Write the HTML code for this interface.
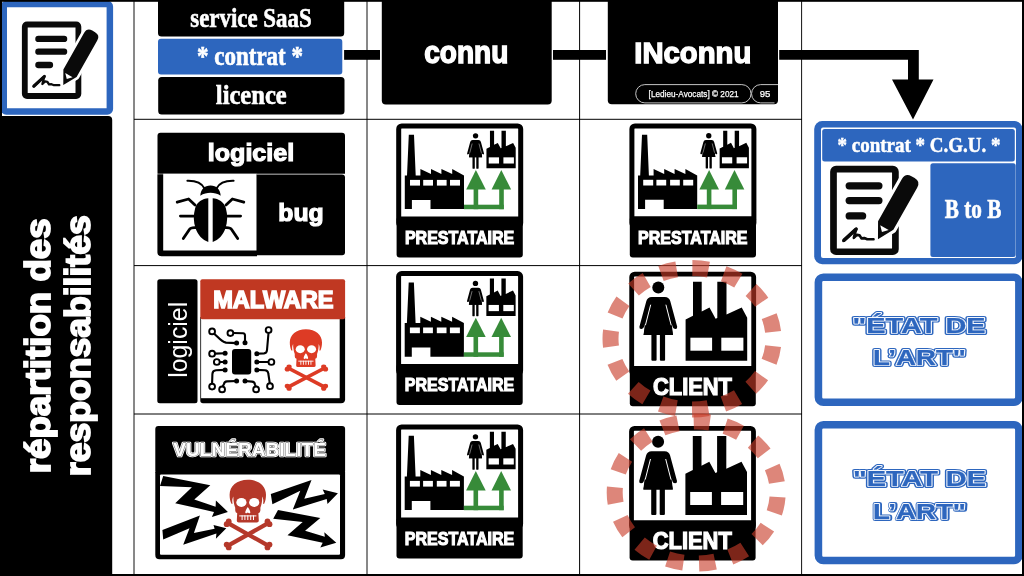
<!DOCTYPE html>
<html>
<head>
<meta charset="utf-8">
<title>répartition des responsabilités</title>
<style>
html,body{margin:0;padding:0;background:#fff;width:1024px;height:576px;overflow:hidden}
svg{display:block;position:absolute;left:0;top:0;will-change:transform}
text{font-family:"Liberation Sans",sans-serif;font-weight:bold;fill:#fff}
.serif{font-family:"Liberation Serif",serif;font-weight:bold}
.reg{font-weight:normal}
.blue{fill:#2d66be}
.nofill{fill:none}
</style>
</head>
<body>
<svg width="1024" height="576" viewBox="0 0 1024 576">
<defs>
<!-- ===== contract icon : local 100x100 ===== -->
<g id="contract">
  <rect x="14.8" y="14.5" width="53.6" height="71.5" rx="2.2" fill="#fff" stroke="#0a0a0a" stroke-width="5.8"/>
  <g stroke="#0a0a0a" stroke-width="6.3" stroke-linecap="round">
    <line x1="28.4" y1="28.9" x2="54.1" y2="28.9"/>
    <line x1="28.4" y1="41.7" x2="54.1" y2="41.7"/>
    <line x1="28.4" y1="55" x2="40" y2="55"/>
  </g>
  <path d="M23.4,76.6 L27.5,73 L31,69.5 L34.6,66 L33.4,70 L32.4,74 L35,71.4 L37.4,71.8 L39,74.4 L41.5,74.2 L44,75.2 L49.5,75.2" fill="none" stroke="#0a0a0a" stroke-width="2.3" stroke-linecap="round" stroke-linejoin="round"/>
  <path d="M24,76 L34.2,66.6" fill="none" stroke="#0a0a0a" stroke-width="3.1" stroke-linecap="round"/>
  <!-- pen -->
  <g transform="translate(53.3,75.1) rotate(29.5)">
    <path d="M0,0 L-7.6,-13.6 L-7.6,-55.5 Q-7.6,-61.7 -1.6,-61.7 L1.6,-61.7 Q7.600,-61.7 7.600,-55.5 L7.600,-13.6 Z" fill="#fff" stroke="#fff" stroke-width="5.4" stroke-linejoin="round"/>
    <path d="M0,0 L-7.6,-13.6 L-7.6,-55.5 Q-7.6,-61.7 -1.6,-61.7 L1.6,-61.7 Q7.600,-61.7 7.600,-55.5 L7.600,-13.6 Z" fill="#0a0a0a"/>
    <path d="M-4.2,-11.4 L4.2,-11.4 L0,-7 Z" fill="#fff"/>
  </g>
</g>

<!-- ===== woman (big, local to client box) ===== -->
<g id="woman">
  <circle cx="29" cy="15.7" r="6"/>
  <path d="M29,25.2 L22.5,25.2 Q18,25.4 17,29.5 L10.1,55 Q9.8,57.4 12.2,57.2 Q14.2,57.2 14.6,55.4 L15.6,52 L14.3,63.4 L43.7,63.4 L42.4,52 L43.4,55.4 Q43.8,57.2 45.8,57.2 Q48.2,57.4 47.9,55 L41,29.5 Q40,25.4 35.5,25.2 Z"/>
  <path d="M14.3,63.4 L17.5,47 L40.5,47 L43.7,63.4 Z"/>
  <rect x="22.1" y="62" width="5.2" height="27.1" rx="1"/>
  <rect x="30.6" y="62" width="5.2" height="27.1" rx="1"/>
  <g stroke="#fff" stroke-width="1" stroke-linecap="butt">
    <line x1="21.4" y1="33" x2="16.1" y2="53.6"/>
    <line x1="36.6" y1="33" x2="41.9" y2="53.6"/>
  </g>
</g>

<!-- ===== factory (big, local to client box) ===== -->
<g id="factory">
  <path d="M56.3,89.1 L56.3,47.8 L63.7,44 L63.7,10.1 L72.4,10.1 L72.4,39.7 L80.2,35.7 L86.3,47 L88,46.2 L88,10.1 L97.2,10.1 L97.2,42.7 L112.4,35.7 L117.9,46 L117.9,89.1 Z"/>
  <rect x="61.1" y="66" width="21.7" height="13" fill="#fff"/>
  <rect x="92" y="66" width="22.1" height="13" fill="#fff"/>
</g>

<!-- ===== client icon ===== -->
<g id="client">
  <rect x="2.4" y="2.4" width="122" height="100" rx="3" fill="#fff" stroke="#000" stroke-width="4.8"/>
  <use href="#woman"/>
  <use href="#factory"/>
  <rect x="0.5" y="94.3" width="126" height="40.3" rx="3" fill="#000"/>
  <text x="63.2" y="123" font-size="23" text-anchor="middle" textLength="79" lengthAdjust="spacingAndGlyphs" stroke="#fff" stroke-width="1.2">CLIENT</text>
</g>

<!-- ===== prestataire icon ===== -->
<g id="presta">
  <rect x="2.5" y="2.5" width="122" height="100" rx="3" fill="#fff" stroke="#000" stroke-width="5"/>
  <!-- big factory -->
  <path d="M8.6,85.6 L8.6,52 L10.8,52 L12.6,11.3 L17.8,11.3 L19.5,52 L24.2,52 L24.2,45.6 L34.8,50.6 L34.8,45.6 L45.2,50.6 L45.2,45.6 L56,50.6 L56,45.6 L67.8,52 L67.8,85.6 L34.3,85.6 L34.3,76.4 L15.7,76.4 L15.7,85.6 Z"/>
  <g fill="#fff">
    <rect x="13.8" y="56.4" width="10" height="5.7"/>
    <rect x="27" y="56.4" width="9.8" height="5.7"/>
    <rect x="40.7" y="56.4" width="9.7" height="5.7"/>
    <rect x="53.8" y="56.4" width="10" height="5.7"/>
  </g>
  <!-- green arrows -->
  <g fill="#378b39">
    <rect x="67.8" y="81.2" width="39.8" height="4.5"/>
    <rect x="77.4" y="64" width="4.6" height="21.7"/>
    <rect x="103" y="64" width="4.6" height="21.7"/>
    <path d="M79.7,46.6 L89.6,66 L70,66 Z"/>
    <path d="M105.1,46.6 L114.9,66 L95.4,66 Z"/>
  </g>
  <use href="#woman" transform="translate(66.4,5.3) scale(0.447)"/>
  <use href="#factory" transform="translate(63.5,2.5) scale(0.475)"/>
  <rect x="0.4" y="92.9" width="126.2" height="41.1" rx="3" fill="#000"/>
  <text x="63.4" y="120.4" font-size="17.6" text-anchor="middle" textLength="109.4" lengthAdjust="spacingAndGlyphs" stroke="#fff" stroke-width="1.1">PRESTATAIRE</text>
</g>

<!-- ===== skull (vuln size, local origin = cranium centre top) ===== -->
<g id="skull">
  <path d="M0,0 C11,0 18.2,6.5 18.2,15 C18.2,18.5 17.6,21.5 16.4,24 L15.2,24 C15.8,21.5 15.6,18.6 14.4,16.6 C14.6,20 14,24 12.6,28 L12.6,30.5 Q12.6,33 10.6,33.4 L11,41 Q11,42.8 9,42.8 L-9,42.8 Q-11,42.8 -11,41 L-10.6,33.4 Q-12.6,33 -12.6,30.5 L-12.6,28 C-14,24 -14.6,20 -14.4,16.6 C-15.6,18.6 -15.8,21.5 -15.2,24 L-16.4,24 C-17.6,21.5 -18.2,18.5 -18.2,15 C-18.2,6.5 -11,0 0,0 Z"/>
  <g fill="#fff">
    <ellipse cx="-6.4" cy="22.6" rx="5.1" ry="4.5"/>
    <ellipse cx="6.4" cy="22.6" rx="5.1" ry="4.5"/>
    <path d="M0,27.2 C1.5,29.2 2.7,31.6 2.5,33 Q1.500,34.2 0,32.8 Q-1.5,34.2 -2.5,33 C-2.7,31.6 -1.5,29.2 0,27.2 Z"/>
    <rect x="-8.6" y="35.6" width="17.2" height="1"/>
    <rect x="-6.2" y="35.6" width="1" height="4.6"/>
    <rect x="-3.4" y="35.6" width="1" height="4.6"/>
    <rect x="-0.5" y="35.6" width="1" height="4.6"/>
    <rect x="2.4" y="35.6" width="1" height="4.6"/>
    <rect x="5.2" y="35.6" width="1" height="4.6"/>
  </g>
</g>
<!-- crossbones, local origin = cross centre -->
<g id="bones">
  <g stroke-width="4.2" stroke-linecap="butt" fill="none">
    <line x1="-20.5" y1="-11.5" x2="20.5" y2="11.5"/>
    <line x1="20.5" y1="-11.5" x2="-20.5" y2="11.5"/>
  </g>
  <g stroke="none">
  <circle cx="-21.4" cy="-10.2" r="2.9"/><circle cx="-19.4" cy="-13" r="2.9"/>
  <circle cx="21.4" cy="-10.2" r="2.9"/><circle cx="19.4" cy="-13" r="2.9"/>
  <circle cx="-21.4" cy="10.2" r="2.9"/><circle cx="-19.4" cy="13" r="2.9"/>
  <circle cx="21.4" cy="10.2" r="2.9"/><circle cx="19.4" cy="13" r="2.9"/>
  </g>
</g>
</defs>

<!-- ================= background & frame ================= -->
<rect x="0" y="0" width="1024" height="576" fill="#fff"/>

<!-- grid lines -->
<g stroke="#000" stroke-width="1" fill="none">
  <line x1="134" y1="0" x2="134" y2="576" stroke="#111"/>
  <line x1="367" y1="0" x2="367" y2="576" stroke="#111"/>
  <line x1="579.6" y1="0" x2="579.6" y2="576"/>
  <line x1="801.6" y1="0" x2="801.6" y2="576" stroke="#111"/>
  <line x1="134" y1="119.3" x2="802" y2="119.3"/>
  <line x1="134" y1="265.6" x2="802" y2="265.6"/>
  <line x1="134" y1="414" x2="802" y2="414"/>
</g>

<!-- ============ LEFT column ============ -->
<rect x="3.75" y="4.05" width="106.1" height="107.4" rx="2.5" fill="#fff" stroke="#2d66be" stroke-width="6.5"/>
<use href="#contract" transform="translate(10,10)"/>
<path d="M0,116 L108.2,116 Q112.2,116 112.2,120 L112.2,576 L0,576 Z" fill="#000"/>
<g transform="translate(50.2,473.3) rotate(-90)">
  <text x="0" y="0" font-size="35.2" textLength="255" lengthAdjust="spacingAndGlyphs" stroke="#fff" stroke-width="1.8">répartition des</text>
</g>
<g transform="translate(90.4,476.2) rotate(-90)">
  <text x="0" y="0" font-size="35.2" textLength="261" lengthAdjust="spacingAndGlyphs" stroke="#fff" stroke-width="1.8">responsabilités</text>
</g>
<!-- ============ ROW 1 ============ -->
<path d="M158,0 L344.2,0 L344.2,33.1 Q344.2,36.6 340.7,36.6 L161.5,36.6 Q158,36.6 158,33.1 Z" fill="#000"/>
<text class="serif" x="251" y="27" font-size="27" text-anchor="middle" textLength="121.4" lengthAdjust="spacingAndGlyphs" stroke="#fff" stroke-width="0.6">service SaaS</text>
<rect x="158" y="38.8" width="184.3" height="35.8" rx="3" fill="#2d66be"/>
<text class="serif" x="250" y="64.5" font-size="27" text-anchor="middle" textLength="106" lengthAdjust="spacingAndGlyphs" stroke="#fff" stroke-width="0.6">* contrat *</text>
<rect x="158.2" y="77" width="186.3" height="37.6" rx="3.5" fill="#000"/>
<text class="serif" x="251.3" y="103.7" font-size="27" text-anchor="middle" textLength="71" lengthAdjust="spacingAndGlyphs" stroke="#fff" stroke-width="0.6">licence</text>
<!-- connectors -->
<rect x="344.1" y="50" width="35.9" height="9.8" fill="#000"/>
<rect x="553" y="50" width="53" height="9.8" fill="#000"/>
<path d="M779.2,50 L918.8,50 L918.8,79.5 L933.5,79.5 L913,119.6 L892,79.5 L908,79.5 L908,59.8 L779.2,59.8 Z" fill="#000"/>
<!-- connu -->
<path d="M381.8,0 L551.7,0 L551.7,100.5 Q551.7,104.5 547.7,104.5 L385.8,104.5 Q381.8,104.5 381.8,100.5 Z" fill="#000"/>
<text x="466.3" y="62.5" font-size="31" text-anchor="middle" textLength="84" lengthAdjust="spacingAndGlyphs" stroke="#fff" stroke-width="1.5">connu</text>
<!-- INconnu -->
<path d="M607.8,0 L778,0 L778,100.2 Q778,104.2 774,104.2 L611.8,104.2 Q607.8,104.2 607.8,100.2 Z" fill="#000"/>
<text x="692.8" y="62.5" font-size="30" text-anchor="middle" textLength="117" lengthAdjust="spacingAndGlyphs" stroke="#fff" stroke-width="1.4">INconnu</text>
<rect x="635.7" y="84.6" width="115.3" height="18.3" rx="9.15" fill="#000" stroke="#c4c4c4" stroke-width="1"/>
<text class="reg" x="693.6" y="97.1" font-size="9.6" text-anchor="middle" textLength="90" lengthAdjust="spacingAndGlyphs" stroke="#fff" stroke-width="0.25">[Ledieu-Avocats] © 2021</text>
<path d="M778,84.6 L760.7,84.6 A9.15,9.15 0 0 0 760.7,102.9 L774.5,102.9" fill="none" stroke="#c4c4c4" stroke-width="1"/>
<text class="reg" x="765.1" y="97.1" font-size="9.6" text-anchor="middle" stroke="#fff" stroke-width="0.25">95</text>
<!-- ============ ROW 2 ============ -->
<path d="M160.5,132.8 L342,132.8 Q345,132.8 345,135.8 L345,173.7 L157.5,173.7 L157.5,135.8 Q157.5,132.8 160.5,132.8 Z" fill="#000"/>
<text x="251" y="161.2" font-size="24.5" text-anchor="middle" textLength="86.5" lengthAdjust="spacingAndGlyphs" stroke="#fff" stroke-width="1.2">logiciel</text>
<path d="M157.4,174.3 L257,174.3 L257,256.2 L161.5,256.2 Q157.4,256.2 157.4,252 Z" fill="#000"/>
<rect x="163.2" y="173.8" width="93.5" height="76.7" fill="#fff"/>
<path d="M256.7,174.4 L342,174.4 Q345,174.4 345,177.4 L345,252.3 Q345,255.3 342,255.3 L256.7,255.3 Z" fill="#000"/>
<text x="301" y="221.3" font-size="24.5" text-anchor="middle" textLength="45.4" lengthAdjust="spacingAndGlyphs" stroke="#fff" stroke-width="1.2">bug</text>
<!-- bug icon -->
<g fill="#000" stroke="none">
  <path d="M200.3,195.8 C200.6,189.5 204.5,185.6 210.5,185.6 C216.5,185.6 220.4,189.5 220.7,195.8 C217.5,193.6 214,192.8 210.5,192.8 C207,192.8 203.5,193.6 200.3,195.8 Z"/>
  <path d="M208.3,198.2 C202.5,198.6 196.8,202 195.2,208 C193.2,215 193.4,222 195.6,228.5 C197.8,235 202.5,240 208.3,242 Z"/>
  <path d="M212.7,198.2 C218.5,198.6 224.2,202 225.8,208 C227.8,215 227.6,222 225.4,228.5 C223.2,235 218.500,240 212.7,242 Z"/>
</g>
<g fill="none" stroke="#000" stroke-width="2" stroke-linecap="round" stroke-linejoin="round">
  <path d="M204.5,188.5 C202,183.5 196,180.6 187.4,180.8"/>
  <path d="M216.5,188.5 C219,183.5 225,180.6 233.600,180.8"/>
</g>
<g fill="none" stroke="#000" stroke-width="2.8" stroke-linecap="round" stroke-linejoin="round">
  <path d="M195,205 L188.6,199 L177.2,202.2"/>
  <path d="M226,205 L232.400,199 L243.800,202.2"/>
  <path d="M180.4,216.1 L194,216.1"/>
  <path d="M240.600,216.1 L227,216.1"/>
  <path d="M195.5,227.6 Q190.5,227.4 189.4,229.4 L183.3,238.6"/>
  <path d="M225.5,227.6 Q230.5,227.4 231.600,229.4 L237.700,238.6"/>
</g>
<use href="#presta" transform="translate(396.2,123.5)"/>
<use href="#presta" transform="translate(629.4,123.4)"/>
<!-- ============ ROW 3 ============ -->
<rect x="157.3" y="279.2" width="40.2" height="124" rx="2.5" fill="#000"/>
<g transform="translate(186.5,377.8) rotate(-90)">
  <text class="reg" x="0" y="0" font-size="25" textLength="76" lengthAdjust="spacingAndGlyphs">logiciel</text>
</g>
<path d="M200.3,317 L345.1,317 L345.1,399.2 Q345.1,403.2 341,403.2 L203,403.2 Q200.3,403.2 200.3,400.5 Z" fill="#000"/>
<rect x="201.1" y="318" width="138.6" height="80.2" fill="#fff"/>
<rect x="200.3" y="279.2" width="144.8" height="40.1" rx="2" fill="#c03822"/>
<text x="273.4" y="308.4" font-size="23" text-anchor="middle" textLength="120.4" lengthAdjust="spacingAndGlyphs" stroke="#fff" stroke-width="1.5">MALWARE</text>
<!-- chip -->
<rect x="232" y="349.1" width="19.2" height="25.4" rx="3" fill="#000"/>
<g fill="none" stroke="#000" stroke-width="2.1" stroke-linecap="round" stroke-linejoin="round">
  <path d="M214,333.4 C219,338 221,341.5 226,342.6 L236.6,343.1"/>
  <path d="M233.2,333 L243,333.2 Q245,333.4 245,335.5 L245,342.8"/>
  <path d="M215,353.6 L225.1,353.3"/>
  <path d="M219.6,362 L225.1,362"/>
  <path d="M225.1,369.9 L216,370.3 Q212.6,370.6 212.4,374 L212.1,383.6"/>
  <path d="M236.6,381 L227,381.4 Q224.4,381.6 224,384 L222.6,386.6"/>
  <path d="M245,381 L252,381.6 Q254.600,381.8 255,384.5 L255.7,386.6"/>
  <path d="M256.8,353.7 L264,353.4 Q266.8,353.2 267,350 L268.5,333"/>
  <path d="M256.8,362 L268.5,362"/>
  <path d="M256.8,369.9 L265,370.3 Q268,370.5 268.3,373.5 L269.8,383.3"/>
</g>
<g fill="#000">
  <circle cx="236.6" cy="343.1" r="2.5"/><circle cx="245" cy="342.8" r="2.5"/>
  <circle cx="225.1" cy="353.3" r="2.5"/><circle cx="225.1" cy="362" r="2.5"/><circle cx="225.1" cy="369.9" r="2.5"/>
  <circle cx="236.6" cy="381" r="2.5"/><circle cx="245" cy="381" r="2.5"/>
  <circle cx="256.8" cy="353.7" r="2.5"/><circle cx="256.8" cy="362" r="2.5"/><circle cx="256.8" cy="369.9" r="2.5"/>
</g>
<g fill="#fff" stroke="#000" stroke-width="1.9">
  <circle cx="212.1" cy="331.4" r="2.9"/><circle cx="230.4" cy="333.1" r="2.9"/>
  <circle cx="212.1" cy="353.7" r="2.9"/><circle cx="216.8" cy="362" r="2.9"/>
  <circle cx="212.1" cy="386.6" r="2.9"/><circle cx="222.1" cy="389.4" r="2.9"/>
  <circle cx="256.1" cy="389.4" r="2.9"/><circle cx="268.6" cy="330" r="2.9"/>
  <circle cx="271.4" cy="362" r="2.9"/><circle cx="270" cy="386.2" r="2.9"/>
</g>
<g fill="#dd3b25" stroke="#dd3b25">
  <use href="#skull" transform="translate(305.9,329.2) scale(0.885)" stroke="none"/>
  <use href="#bones" transform="translate(306.4,377.6) scale(0.893,0.83)"/>
</g>
<use href="#presta" transform="translate(396.1,271.1)"/>
<use href="#client" transform="translate(629.3,271.7)"/>
<!-- ============ ROW 4 ============ -->
<path d="M155.3,472 L345.1,472 L345.1,555 Q345.1,559.3 341,559.3 L159.5,559.3 Q155.3,559.3 155.3,555 Z" fill="#000"/>
<rect x="160" y="474.5" width="180" height="80.2" rx="1" fill="#fff"/>
<rect x="155.3" y="426" width="189.8" height="48" rx="3" fill="#000"/>
<g font-size="17.6" text-anchor="middle" stroke-linejoin="round">
  <text x="249.6" y="455.6" textLength="152.5" lengthAdjust="spacingAndGlyphs" stroke="#fff" stroke-width="2.6">VULNÉRABILITÉ</text>
  <text class="nofill" x="249.6" y="455.6" textLength="152.5" lengthAdjust="spacingAndGlyphs" stroke="#3a3a3a" stroke-width="0.85">VULNÉRABILITÉ</text>
  <text x="249.6" y="455.6" textLength="152.5" lengthAdjust="spacingAndGlyphs" stroke="#fff" stroke-width="0.2">VULNÉRABILITÉ</text>
</g>
<g fill="#000">
  <polygon points="163.2,476.1 210.3,485.2 194.3,499.6 215.6,506.7 215.9,500.4 227.9,511.9 211.9,517.1 214,511.9 175.2,503.2 191.9,487.3 160,486"/>
  <polygon points="162.4,529.9 199.9,515.5 193.9,533.1 214.6,528.8 213.5,525.1 226.3,528.3 215.9,538.7 216.4,533.6 183.2,544.8 189.5,528.3 163.2,539.5"/>
  <polygon points="270.8,494 311.5,479.9 304.3,498.8 324.8,494 322.7,489.5 337.9,493.2 327.5,503.9 326.7,499.1 292.8,509.6 300.3,490.8 272.4,504.3"/>
  <polygon points="278,509.9 320.3,517.9 305.1,530.7 324.8,536.8 324.3,532.3 336.3,542.7 320.3,547.5 322.7,542.7 287.5,535.2 302.7,521.9 273.2,518.7"/>
</g>
<g fill="#b5382a" stroke="#b5382a">
  <use href="#skull" transform="translate(247.8,479.8)" stroke="none"/>
  <use href="#bones" transform="translate(248.1,534.4)"/>
</g>
<use href="#presta" transform="translate(396.1,424.5)"/>
<use href="#client" transform="translate(629.1,426)"/>
<!-- dashed highlight ellipses -->
<g fill="none" stroke="#c83c28" stroke-opacity="0.62" stroke-width="16">
  <ellipse cx="692" cy="338.8" rx="81.5" ry="70.7" stroke-dasharray="16.2 15.75" stroke-dashoffset="-7.4"/>
  <ellipse cx="696.2" cy="492.5" rx="81.5" ry="71" stroke-dasharray="16.2 15.8" stroke-dashoffset="-4.6"/>
</g>
<!-- ============ RIGHT column ============ -->
<rect x="814.2" y="121.1" width="208.3" height="143.1" rx="8" fill="#2d66be"/>
<rect x="821" y="127.4" width="195" height="130.6" rx="2" fill="#fff"/>
<rect x="822.2" y="128.9" width="192.6" height="32.6" rx="2.5" fill="#2d66be"/>
<rect x="930.4" y="163.2" width="85.3" height="93.8" rx="2.5" fill="#2d66be"/>
<text class="serif" x="919" y="152.4" font-size="22" text-anchor="middle" textLength="163" lengthAdjust="spacingAndGlyphs" stroke="#fff" stroke-width="0.5">* contrat * C.G.U. *</text>
<text class="serif" x="973" y="217.8" font-size="27.8" text-anchor="middle" textLength="56.6" lengthAdjust="spacingAndGlyphs" stroke="#fff" stroke-width="0.6">B to B</text>
<use href="#contract" transform="translate(816.4,152.4) scale(1.155)"/>
<rect x="818.4" y="277.2" width="200.5" height="125" rx="5" fill="#fff" stroke="#2d66be" stroke-width="7.6"/>
<rect x="818.4" y="424.7" width="200.5" height="135.8" rx="5" fill="#fff" stroke="#2d66be" stroke-width="7.6"/>
<g font-size="21.8" text-anchor="middle" stroke-linejoin="round">
  <g class="blue" stroke="#2d66be" stroke-width="4.2">
    <text class="blue" x="919.1" y="332.8" textLength="133" lengthAdjust="spacingAndGlyphs">"ÉTAT DE</text>
    <text class="blue" x="919.5" y="365.4" textLength="93" lengthAdjust="spacingAndGlyphs">L’ART"</text>
    <text class="blue" x="919.5" y="485.5" textLength="133" lengthAdjust="spacingAndGlyphs">"ÉTAT DE</text>
    <text class="blue" x="920.1" y="519" textLength="93" lengthAdjust="spacingAndGlyphs">L’ART"</text>
  </g>
  <g stroke="#f4f7fc" stroke-width="2">
    <text class="nofill" x="919.1" y="332.8" textLength="133" lengthAdjust="spacingAndGlyphs">"ÉTAT DE</text>
    <text class="nofill" x="919.5" y="365.4" textLength="93" lengthAdjust="spacingAndGlyphs">L’ART"</text>
    <text class="nofill" x="919.5" y="485.5" textLength="133" lengthAdjust="spacingAndGlyphs">"ÉTAT DE</text>
    <text class="nofill" x="919.5" y="519" textLength="93" lengthAdjust="spacingAndGlyphs">L’ART"</text>
  </g>
  <g stroke="#2d66be" stroke-width="0.25">
    <text class="blue" x="919.1" y="332.8" textLength="133" lengthAdjust="spacingAndGlyphs">"ÉTAT DE</text>
    <text class="blue" x="919.5" y="365.4" textLength="93" lengthAdjust="spacingAndGlyphs">L’ART"</text>
    <text class="blue" x="919.5" y="485.5" textLength="133" lengthAdjust="spacingAndGlyphs">"ÉTAT DE</text>
    <text class="blue" x="919.5" y="519" textLength="93" lengthAdjust="spacingAndGlyphs">L’ART"</text>
  </g>
</g>
<!-- outer frame -->
<rect x="0" y="0" width="1024" height="1.8" fill="#000"/>
<rect x="0" y="574" width="1024" height="2" fill="#000"/>
<rect x="1022" y="0" width="2" height="576" fill="#000"/>
<rect x="0" y="0" width="2" height="576" fill="#000"/>
</svg>
</body>
</html>
